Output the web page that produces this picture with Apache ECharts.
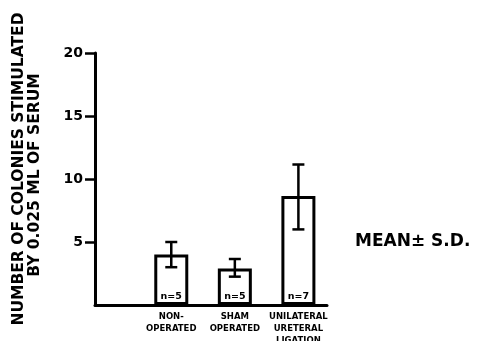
<!DOCTYPE html>
<html><head><meta charset="utf-8">
<script src="https://cdn.jsdelivr.net/npm/echarts@6/dist/echarts.min.js"></script>
<style>html,body{margin:0;padding:0;background:#fff}#c{width:487px;height:341px}</style>
</head><body><div id="c"></div>
<script>
var categories = ['NON-\nOPERATED', 'SHAM\nOPERATED', 'UNILATERAL\nURETERAL\nLIGATION'];
var positions = [1.2, 2.2, 3.2];
var means = [4.0, 2.9, 8.65];
var sdLow = [3.0, 2.25, 6.0];
var sdHigh = [5.0, 3.65, 11.15];
var nLabels = ['n=5', 'n=5', 'n=7'];
var yTicks = [5, 10, 15, 20];
var yTitle = ['NUMBER OF COLONIES STIMULATED', 'BY 0.025 ML OF SERUM'];
var note = 'MEAN± S.D.';

var FONT = 'DejaVu Sans';
var chart = echarts.init(document.getElementById('c'));
chart.setOption({
  animation: false,
  grid: {left: 95, right: 160, top: 53, bottom: 36, containLabel: false, outerBoundsMode: 'none'},
  xAxis: {
    type: 'value', min: 0, max: 3.65,
    splitLine: {show: false},
    axisLine: {show: true, lineStyle: {color: '#000', width: 3}},
    axisTick: {show: false},
    axisLabel: {
      customValues: positions,
      formatter: function (v) {
        for (var i = 0; i < positions.length; i++) if (Math.abs(positions[i] - v) < 1e-6) return categories[i];
        return '';
      },
      color: '#000', fontFamily: FONT, fontWeight: 'bold', fontSize: 8.5, lineHeight: 12, margin: 6
    }
  },
  yAxis: {
    type: 'value', min: 0, max: 20, interval: 5,
    splitLine: {show: false},
    axisLine: {show: true, lineStyle: {color: '#000', width: 3}},
    axisTick: {show: true, length: 10, lineStyle: {color: '#000', width: 2.5}, customValues: yTicks},
    axisLabel: {customValues: yTicks, color: '#000', fontFamily: FONT, fontWeight: 'bold', fontSize: 14, margin: 12}
  },
  series: [{
    type: 'bar',
    barWidth: 34,
    data: positions.map(function (p, i) { return [p, means[i]]; }),
    itemStyle: {color: '#fff', borderColor: '#000', borderWidth: 3},
    label: {
      show: true, position: 'insideBottom', distance: 3,
      formatter: function (p) { return nLabels[p.dataIndex]; },
      color: '#000', fontFamily: FONT, fontWeight: 'bold', fontSize: 9.5
    },
    z: 2
  }, {
    type: 'custom',
    data: positions.map(function (p, i) { return [p, sdLow[i], sdHigh[i]]; }),
    renderItem: function (params, api) {
      var lo = api.coord([api.value(0), api.value(1)]);
      var hi = api.coord([api.value(0), api.value(2)]);
      var hw = 6;
      var st = {stroke: '#000', lineWidth: 2.5};
      return {type: 'group', children: [
        {type: 'line', shape: {x1: lo[0], y1: lo[1], x2: hi[0], y2: hi[1]}, style: st},
        {type: 'line', shape: {x1: lo[0] - hw, y1: lo[1], x2: lo[0] + hw, y2: lo[1]}, style: st},
        {type: 'line', shape: {x1: hi[0] - hw, y1: hi[1], x2: hi[0] + hw, y2: hi[1]}, style: st}
      ]};
    },
    z: 3
  }],
  graphic: [{
    type: 'text', x: 19, y: 169, rotation: Math.PI / 2,
    style: {text: yTitle[0], fill: '#000', font: 'bold 15.5px "DejaVu Sans"', align: 'center', verticalAlign: 'middle'}
  }, {
    type: 'text', x: 35, y: 175, rotation: Math.PI / 2,
    style: {text: yTitle[1], fill: '#000', font: 'bold 15.5px "DejaVu Sans"', align: 'center', verticalAlign: 'middle'}
  }, {
    type: 'text', x: 355, y: 242,
    style: {text: note, fill: '#000', font: 'bold 17px "DejaVu Sans"', align: 'left', verticalAlign: 'middle'}
  }]
});
</script></body></html>
